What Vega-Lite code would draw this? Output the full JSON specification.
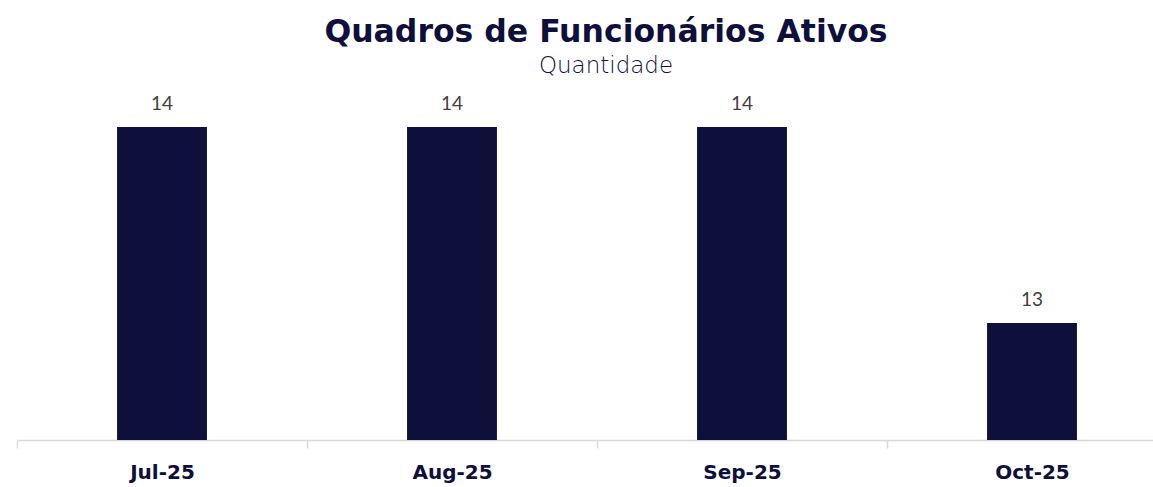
{
  "$schema": "https://vega.github.io/schema/vega-lite/v6.json",
  "autosize": "none",
  "padding": {"left": 17, "top": 88, "right": 0, "bottom": 47},
  "width": 1160,
  "height": 352,
  "background": "white",
  "config": {"view": {"stroke": null}},
  "title": {
    "text": "Quadros de Funcionários Ativos",
    "subtitle": "Quantidade",
    "anchor": "middle",
    "dx": 9,
    "font": "DejaVu Sans",
    "fontSize": 31.5,
    "fontWeight": "bold",
    "color": "#0E0F3B",
    "subtitleFont": "DejaVu Sans",
    "subtitleFontSize": 23,
    "subtitleFontWeight": 300,
    "subtitleColor": "#0E0F3B",
    "subtitlePadding": 7,
    "offset": 10
  },
  "data": {
    "values": [
      {"mes": "Jul-25", "qtd": 14},
      {"mes": "Aug-25", "qtd": 14},
      {"mes": "Sep-25", "qtd": 14},
      {"mes": "Oct-25", "qtd": 13}
    ]
  },
  "encoding": {
    "x": {
      "field": "mes",
      "type": "nominal",
      "sort": null,
      "scale": {"paddingInner": 0, "paddingOuter": 0},
      "axis": {
        "title": null,
        "labelAngle": 0,
        "labelFont": "DejaVu Sans",
        "labelFontSize": 20,
        "labelFontWeight": "bold",
        "labelColor": "#0E0F3B",
        "labelPadding": 14,
        "tickBand": "extent",
        "tickSize": 8,
        "tickColor": "#d9d9d9",
        "domainColor": "#d9d9d9",
        "domainWidth": 1.5,
        "tickWidth": 1.5
      }
    },
    "y": {
      "field": "qtd",
      "type": "quantitative",
      "scale": {"domain": [12.403, 14.199], "zero": false, "nice": false},
      "axis": null
    }
  },
  "layer": [
    {"mark": {"type": "bar", "color": "#0E0F3B", "clip": true, "width": {"band": 0.31}}},
    {
      "mark": {"type": "text", "baseline": "bottom", "dy": -13, "font": "Lato", "fontSize": 19, "color": "#404040"},
      "encoding": {"text": {"field": "qtd", "type": "quantitative"}}
    }
  ]
}
